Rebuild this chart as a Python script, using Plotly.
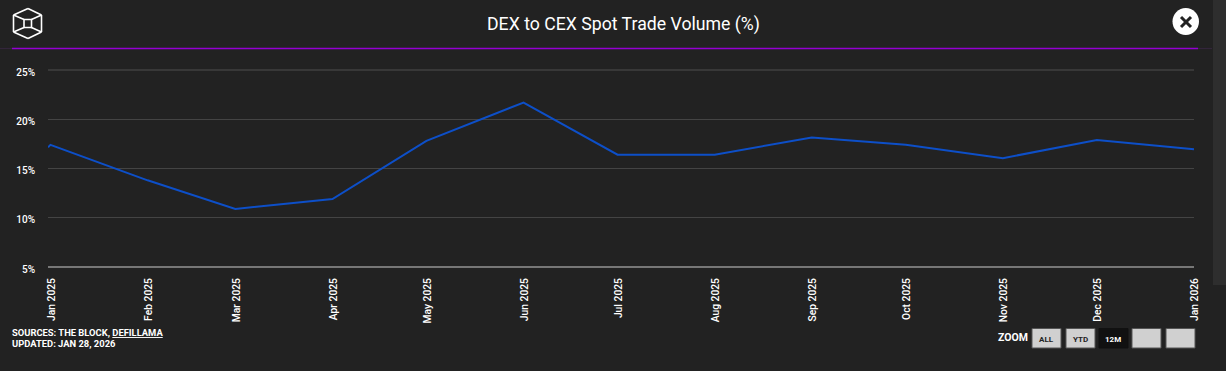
import plotly.graph_objects as go

W, H = 1226, 371
L, R, T, B = 48, 1194, 70, 267

dates = ["2024-12-31 05:00","2025-01-01","2025-02-01","2025-03-01","2025-04-01","2025-05-01","2025-06-01","2025-07-01",
         "2025-08-01","2025-09-01","2025-10-01","2025-11-01","2025-12-01","2026-01-01"]
ratio = [17.15,17.4,13.8,10.9,11.9,17.8,21.7,16.4,16.4,18.15,17.4,16.05,17.9,16.95]
tick_dates = dates[1:]
month_labels = ["Jan 2025","Feb 2025","Mar 2025","Apr 2025","May 2025","Jun 2025","Jul 2025",
                "Aug 2025","Sep 2025","Oct 2025","Nov 2025","Dec 2025","Jan 2026"]
y_ticks = [5,10,15,20,25]
y_labels = ["5%","10%","15%","20%","25%"]
buttons = ["ALL","YTD","12M","",""]

def px(x): return (x-L)/(R-L)
def py(y): return (B-y)/(B-T)

BG="#222222"
fig = go.Figure(go.Scatter(x=dates,y=ratio,mode="lines",line=dict(color="#0d4fc8",width=2),hoverinfo="skip"))

shapes=[]
def rect(x0,y0,x1,y1,fill,line=None,lw=0):
    shapes.append(dict(type="rect",xref="paper",yref="paper",layer="below",x0=px(x0),x1=px(x1),y0=py(y0),y1=py(y1),
                       fillcolor=fill,line=dict(color=line or fill,width=lw)))
def seg(x0,y0,x1,y1,color,w):
    shapes.append(dict(type="line",xref="paper",yref="paper",layer="below",x0=px(x0),x1=px(x1),y0=py(y0),y1=py(y1),
                       line=dict(color=color,width=w)))

# header rule
seg(0,48.5,12,48.5,"#33263b",1.3)
seg(1198,48.5,1212,48.5,"#33263b",1.3)
seg(12,48.5,1198,48.5,"#9400d3",1.4)
# top grid line and axis baseline
seg(48,70,1194,70,"#383838",2)
seg(48,267,1194,267,"#777777",2)
# scrollbar strip
rect(1213,0,1226,285,"#2e2e2e")
# logo (hexagonal cube)
hexa=[(28,8.5),(41.5,15),(41.5,32),(28,38.5),(13.5,32),(13.5,15),(28,8.5)]
for a,b in zip(hexa,hexa[1:]): seg(a[0],a[1],b[0],b[1],"#ffffff",1.6)
rect(24,19.5,31.5,27.5,BG,"#ffffff",1.6)
for a,b in [((13.5,15),(24,19.5)),((41.5,15),(31.5,19.5)),((13.5,32),(24,27.5)),((41.5,32),(31.5,27.5))]:
    seg(a[0],a[1],b[0],b[1],"#ffffff",1.6)
# close button
shapes.append(dict(type="circle",xref="paper",yref="paper",layer="below",x0=px(1172.5),x1=px(1199),y0=py(8),y1=py(35),
                   fillcolor="#ffffff",line=dict(color="#ffffff",width=0)))
seg(1181,17,1191,27,"#222222",3)
seg(1191,17,1181,27,"#222222",3)
# zoom buttons
annotations=[]
def note(x,y,text,size,color="#ffffff",xanchor="center"):
    annotations.append(dict(xref="paper",yref="paper",x=px(x),y=py(y),text=text,showarrow=False,
                            xanchor=xanchor,yanchor="middle",font=dict(family="Roboto",size=size,color=color)))
for label,x0 in zip(buttons,[1032,1066,1099,1132,1166]):
    active = label=="12M"
    rect(x0,328.5,x0+29,348,"#111111" if active else "#d0d0d0","#111111" if active else "#555555",1)
    if label:
        note(x0+14,339,f"<b>{label}</b>",8,"#ffffff" if active else "#222222")
note(623.5,24.7,"DEX to CEX Spot Trade Volume (%)",17.7)
note(1030,337.5,"<b>ZOOM</b>",10.5,xanchor="right")
note(10,332.5,"<b>SOURCES: THE BLOCK, <u>DEFILLAMA</u></b>",9.4,xanchor="left")
note(10,343.5,"<b>UPDATED: JAN 28, 2026</b>",9.4,xanchor="left")

fig.update_layout(
    width=W,height=H,autosize=False,margin=dict(l=L,r=W-R,t=T,b=H-B),
    paper_bgcolor=BG,plot_bgcolor=BG,showlegend=False,shapes=shapes,annotations=annotations,
    xaxis=dict(type="date",range=[dates[0],dates[-1]],tickmode="array",tickvals=tick_dates,ticktext=month_labels,
               tickangle=-90,showgrid=False,zeroline=False,showline=False,ticks="",ticklabelshift=1,ticklabelstandoff=8,
               tickfont=dict(family="Roboto",size=10.3,color="#ffffff",weight=500)),
    yaxis=dict(range=[5,25],tickmode="array",tickvals=y_ticks,ticktext=y_labels,gridcolor="#444444",gridwidth=1,
               zeroline=False,showline=False,ticks="",ticklen=0,ticklabelstandoff=12,ticklabelshift=2,
               tickfont=dict(family="Roboto",size=10,color="#ffffff",weight=500)),
)
fig.write_html("out.html",config={"displayModeBar":False},
               post_script="document.body.style.margin='0';document.body.style.background='#222222';document.body.style.overflow='hidden';")
